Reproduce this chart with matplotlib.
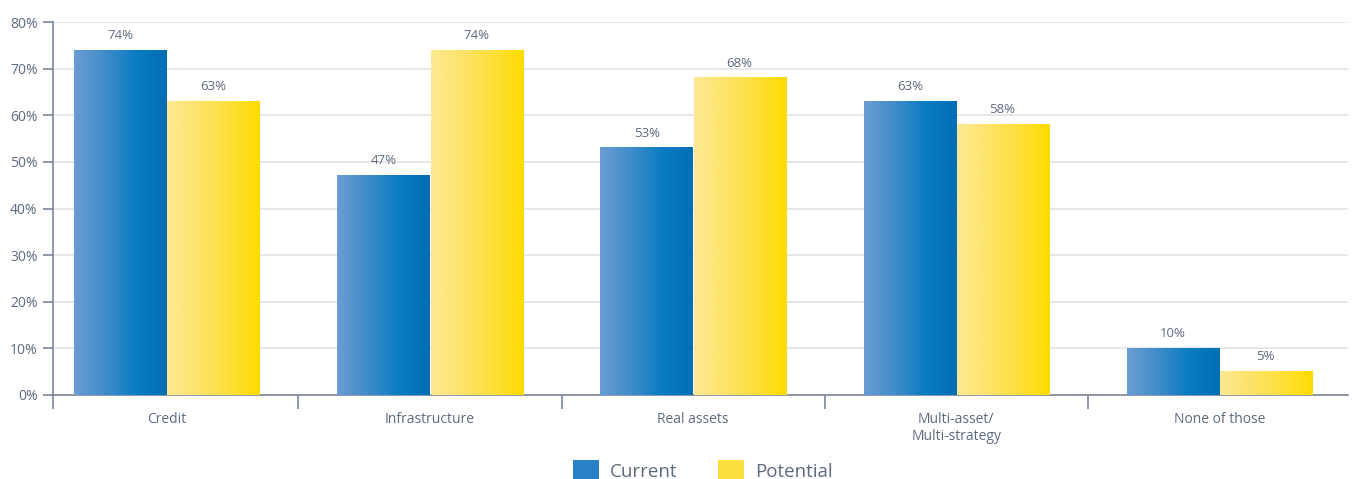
import matplotlib
matplotlib.use("Agg")
import matplotlib.pyplot as plt
import numpy as np
from matplotlib.colors import LinearSegmentedColormap
from matplotlib.patches import Patch

categories = ["Credit", "Infrastructure", "Real assets", "Multi-asset/\nMulti-strategy", "None of those"]
current = [74, 47, 53, 63, 10]
potential = [63, 74, 68, 58, 5]
series_names = ["Current", "Potential"]

text_col = "#5d6b7e"
axis_col = "#7a869a"

plt.rcParams['font.family'] = ['Open Sans', 'DejaVu Sans']

fig = plt.figure(figsize=(13.59, 4.79), dpi=100)
ax = fig.add_axes([0.039, 0.1754, 0.953, 0.7786])

cmap_cur = LinearSegmentedColormap.from_list("cur", ["#6b9dd3", "#3f8cca", "#0a7cc2", "#006db4"])
cmap_pot = LinearSegmentedColormap.from_list("pot", ["#fde993", "#fde36a", "#fee03c", "#ffdb00"])
grad = np.linspace(0, 1, 256).reshape(1, -1)

w = 0.35
x = np.arange(len(categories))
xlim = (-0.433, 4.49)

def gradient_bar(xc, h, cmap):
    ax.imshow(grad, cmap=cmap, extent=(xc - w / 2, xc + w / 2, 0, h),
              aspect='auto', origin='lower', zorder=3, interpolation='bilinear')

for i in x:
    gradient_bar(i - w / 2 - 0.002, current[i], cmap_cur)
    gradient_bar(i + w / 2 + 0.002, potential[i], cmap_pot)
    ax.text(i - w / 2, current[i] + 1.8, f"{current[i]}%", ha='center', va='bottom',
            color=text_col, fontsize=9.5)
    ax.text(i + w / 2, potential[i] + 1.8, f"{potential[i]}%", ha='center', va='bottom',
            color=text_col, fontsize=9.5)

ax.set_xlim(*xlim)
ax.set_ylim(0, 80)
ax.set_yticks(range(0, 81, 10))
ax.set_yticklabels([f"{v}%" for v in range(0, 81, 10)], color=text_col, fontsize=10)
ax.yaxis.grid(True, color="#e3e3e3", linewidth=1.2, zorder=0)
ax.set_axisbelow(True)

ax.set_xticks(x)
ax.set_xticklabels(categories, color=text_col, fontsize=10, linespacing=1.2)
ax.tick_params(axis='x', which='major', length=0, pad=12)
ax.set_xticks([xlim[0]] + list(np.arange(0.5, 4.0, 1.0)), minor=True)
ax.tick_params(axis='x', which='minor', length=10, color=axis_col, width=1.2, direction='out')
ax.tick_params(axis='y', length=7, color=axis_col, width=1.2, pad=4)

for s in ['top', 'right']:
    ax.spines[s].set_visible(False)
for s in ['left', 'bottom']:
    ax.spines[s].set_color(axis_col)
    ax.spines[s].set_linewidth(1.2)

handles = [Patch(facecolor="#2a82c6"), Patch(facecolor="#fddf40")]
leg = fig.legend(handles, series_names, loc='lower center', bbox_to_anchor=(0.517, -0.04),
                 ncol=2, frameon=False, fontsize=13.5, handlelength=1.4, handleheight=1.4,
                 columnspacing=2.2, handletextpad=0.55)
for t in leg.get_texts():
    t.set_color(text_col)

fig.savefig("out.png", dpi=100)
